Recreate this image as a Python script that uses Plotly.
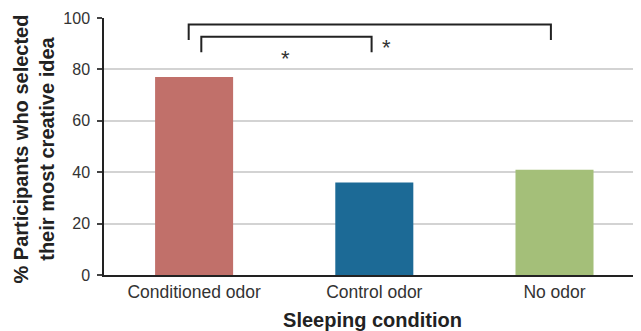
import plotly.graph_objects as go

categories = ["Conditioned odor", "Control odor", "No odor"]
values = [77, 36, 41]
bar_colors = ["#c1706a", "#1c6a96", "#a4bf79"]
y_ticks = [0, 20, 40, 60, 80, 100]

# significance brackets: (left x, right x, top y, leg bottom y)
bracket_x0 = [-0.03, 0.04]
bracket_x1 = [1.98, 0.985]
bracket_top = [97.5, 92.7]
bracket_bottom = [91.4, 86.7]
star_x = [1.07, 0.505]
star_y = [90.6, 86.3]

fig = go.Figure()
fig.add_trace(go.Bar(
    x=list(range(len(categories))), y=values,
    marker=dict(color=bar_colors, line=dict(width=0)),
    width=0.433,
))

shapes = []
for x0, x1, yt, yb in zip(bracket_x0, bracket_x1, bracket_top, bracket_bottom):
    shapes.append(dict(
        type="path", xref="x", yref="y",
        path=f"M {x0},{yb} L {x0},{yt} L {x1},{yt} L {x1},{yb}",
        line=dict(color="#222222", width=2),
    ))

annotations = []
for sx, sy in zip(star_x, star_y):
    annotations.append(dict(
        x=sx, y=sy, xref="x", yref="y", text="*", showarrow=False,
        font=dict(family="Liberation Sans, Arial", size=22, color="#333333"),
        xanchor="center", yanchor="middle", yshift=-5,
    ))
annotations.append(dict(
    x=-0.1304, y=0.492, xref="paper", yref="paper", showarrow=False,
    text="<b>% Participants who selected<br>their most creative idea</b>",
    textangle=-90, xanchor="center", yanchor="middle",
    font=dict(family="Liberation Sans, Arial", size=20, color="#222222"),
))

fig.update_layout(
    width=633, height=323,
    margin=dict(l=96, r=0, t=10, b=56),
    paper_bgcolor="white", plot_bgcolor="white",
    showlegend=False,
    shapes=shapes, annotations=annotations,
    font=dict(family="Liberation Sans, Arial", color="#333333"),
    xaxis=dict(
        range=[-0.5, 2.48],
        tickmode="array", tickvals=list(range(len(categories))), ticktext=categories,
        tickfont=dict(size=17.5, color="#333333"),
        showline=True, linecolor="#222222", linewidth=2,
        showgrid=False, ticks="", zeroline=False,
        title=dict(text="<b>Sleeping condition</b>", font=dict(size=20, color="#222222"), standoff=14),
    ),
    yaxis=dict(
        range=[0, 100], tickvals=y_ticks,
        tickfont=dict(size=16, color="#333333"),
        showline=True, linecolor="#222222", linewidth=1.5,
        ticks="outside", ticklen=5, tickcolor="#444444", tickwidth=1.5,
        ticklabelstandoff=4,
        showgrid=True, gridcolor="#d3d3d3", gridwidth=2,
        zeroline=False,
    ),
)

fig.write_html("out.html")
